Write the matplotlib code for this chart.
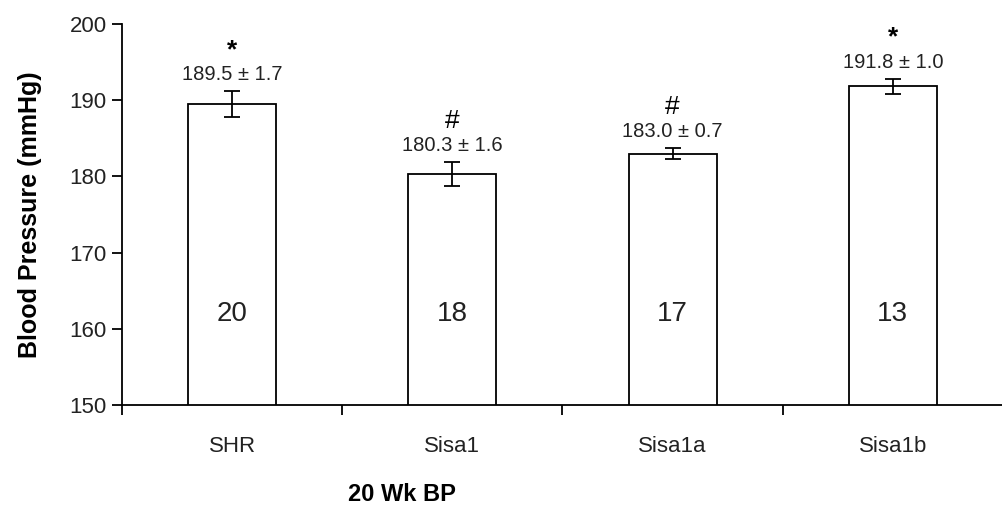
import matplotlib.pyplot as plt
import numpy as np

plt.rcParams['font.family'] = ['Liberation Sans', 'DejaVu Sans']

groups = ["SHR", "Sisa1", "Sisa1a", "Sisa1b"]
bp_mean = [189.5, 180.3, 183.0, 191.8]
bp_sem = [1.7, 1.6, 0.7, 1.0]
n_rats = [20, 18, 17, 13]
marks = ["*", "#", "#", "*"]

fig = plt.figure(figsize=(10.03, 5.08), dpi=100)
ax = fig.add_axes([122 / 1003, 103 / 508, 881 / 1003, 381 / 508])

x = np.arange(len(groups))
ax.bar(x, bp_mean, width=0.4, color="white", edgecolor="black", linewidth=1.3, zorder=2)
ax.errorbar(x, bp_mean, yerr=bp_sem, fmt="none", ecolor="black", elinewidth=1.3,
            capsize=6, capthick=1.3, zorder=3)

for i in range(len(groups)):
    top = bp_mean[i] + bp_sem[i]
    ax.annotate(f"{bp_mean[i]:.1f} \u00b1 {bp_sem[i]:.1f}", (x[i], top), xytext=(0, 5),
                textcoords="offset points", ha="center", va="bottom", fontsize=14.5,
                color="#222222")
    if marks[i] == "*":
        ax.annotate(marks[i], (x[i], top), xytext=(0, 21), textcoords="offset points",
                    ha="center", va="bottom", fontsize=19, fontweight="bold")
    else:
        ax.annotate(marks[i], (x[i], top), xytext=(0, 21), textcoords="offset points",
                    ha="center", va="bottom", fontsize=19)
    ax.text(x[i], 162, str(n_rats[i]), ha="center", va="center", fontsize=20,
            color="#222222")

ax.set_xlim(-0.5, 3.5)
ax.set_ylim(150, 200)
ax.set_yticks(np.arange(150, 201, 10))
ax.set_xticks(x)
ax.set_xticklabels(groups)
ax.set_xticks(np.arange(-0.5, 3.6, 1), minor=True)
ax.tick_params(axis="x", which="major", length=0, pad=22, labelsize=16, labelcolor="#222222")
ax.tick_params(axis="x", which="minor", length=7, width=1.3, direction="out")
ax.tick_params(axis="y", length=7, width=1.3, direction="out", labelsize=16, pad=4,
               labelcolor="#222222")

for s in ["top", "right"]:
    ax.spines[s].set_visible(False)
for s in ["left", "bottom"]:
    ax.spines[s].set_linewidth(1.3)

ax.set_ylabel("Blood Pressure (mmHg)", fontsize=18, fontweight="bold", labelpad=20)
ax.set_xlabel("20 Wk BP", fontsize=17, fontweight="bold")
ax.xaxis.set_label_coords(0.318, -0.205)

fig.savefig("out.png", dpi=100)
